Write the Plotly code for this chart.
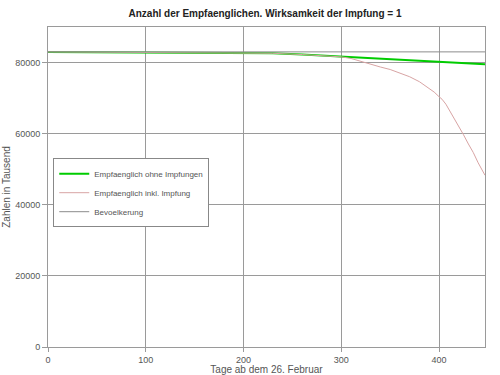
import plotly.graph_objects as go

# Data (values in thousands)
days_green = [0, 25, 50, 100, 150, 200, 230, 260, 290, 310, 330, 350, 370, 390, 410, 430, 447]
green_vals = [83000, 82950, 82900, 82850, 82850, 82800, 82600, 82250, 81800, 81400, 81100, 80900, 80700, 80400, 80100, 79800, 79500]

days_pink = [0, 25, 50, 100, 150, 200, 230, 260, 290, 300, 310, 320, 330, 340, 350, 360, 370, 380,
             390, 395, 400, 403, 407, 410, 415, 420, 425, 430, 435, 440, 444, 447]
pink_vals = [83000, 82950, 82900, 82850, 82850, 82800, 82600, 82250, 81800, 81600, 81150, 80300,
             79400, 78750, 78050, 77100, 76000, 74600, 72800, 71700, 70400, 69700, 68300, 66900,
             64500, 62000, 59700, 57100, 54700, 51800, 49800, 48300]

days_pop = [0, 447]
pop_vals = [83000, 83000]

x_ticks = [0, 100, 200, 300, 400]
y_ticks = [0, 20000, 40000, 60000, 80000]
y_tick_labels = ["0", "20000", "40000", "60000", "80000"]

font_family = "Liberation Sans, Arial, Helvetica, sans-serif"

fig = go.Figure()
fig.add_trace(go.Scatter(x=days_green, y=green_vals, mode="lines",
                         name="Empfaenglich ohne Impfungen",
                         line=dict(color="#00cc00", width=2)))
fig.add_trace(go.Scatter(x=days_pink, y=pink_vals, mode="lines",
                         name="Empfaenglich inkl. Impfung",
                         line=dict(color="#d8a4a4", width=1)))
fig.add_trace(go.Scatter(x=days_pop, y=pop_vals, mode="lines",
                         name="Bevoelkerung",
                         line=dict(color="#8c8c8c", width=1)))

fig.update_layout(
    width=500, height=375,
    margin=dict(l=48, r=15, t=27, b=28),
    paper_bgcolor="white", plot_bgcolor="white",
    font=dict(family=font_family, size=9, color="#555555"),
    title=dict(text="<b>Anzahl der Empfaenglichen. Wirksamkeit der Impfung = 1</b>",
               x=0.53, xanchor="center", y=0.965, yanchor="middle",
               font=dict(size=10, color="#222222", family=font_family)),
    showlegend=True,
    legend=dict(x=0.012, y=0.59, xanchor="left", yanchor="top",
                bgcolor="white", bordercolor="#888888", borderwidth=1,
                font=dict(size=8, color="#555555"), tracegroupgap=0,
                itemwidth=30),
)
fig.update_xaxes(range=[0, 447], tickvals=x_ticks, showgrid=True, gridcolor="#9a9a9a", gridwidth=1,
                 zeroline=False, showline=True, linecolor="#9a9a9a", mirror=True,
                 ticks="outside", ticklen=4, tickcolor="#9a9a9a", automargin=False,
                 title=dict(text="Tage ab dem 26. Februar", standoff=2,
                            font=dict(size=10, color="#555555")))
fig.update_yaxes(range=[0, 90000], tickvals=y_ticks, ticktext=y_tick_labels,
                 showgrid=True, gridcolor="#9a9a9a", gridwidth=1,
                 zeroline=False, showline=True, linecolor="#9a9a9a", mirror=True,
                 ticks="outside", ticklen=5, tickcolor="#9a9a9a", automargin=False,
                 title=dict(text="Zahlen in Tausend", standoff=2,
                            font=dict(size=10, color="#555555")))

fig.write_html("out.html")
